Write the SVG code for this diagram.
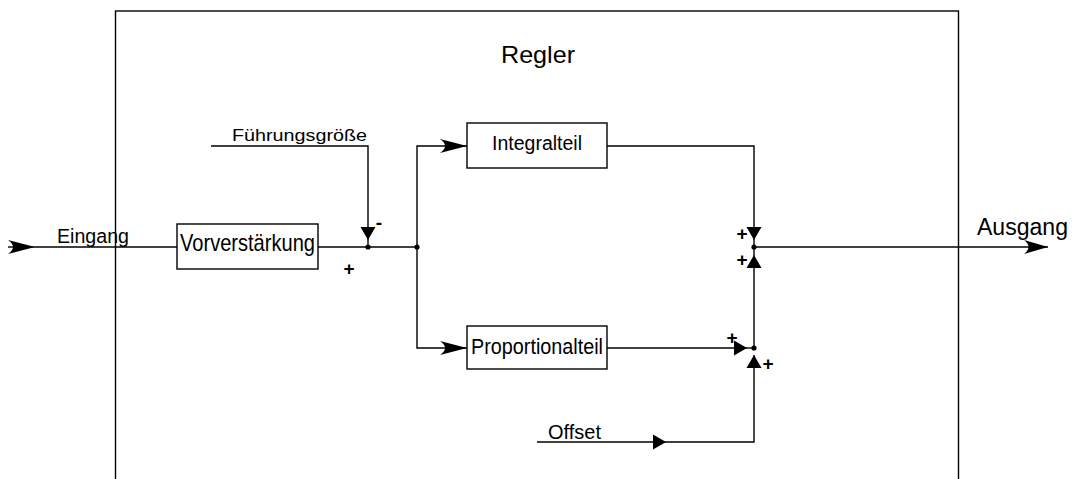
<svg xmlns="http://www.w3.org/2000/svg" width="1078" height="479" viewBox="0 0 1078 479">
<style>
.ln{fill:none;stroke:#000;stroke-width:1.4}
.box{fill:#fff;stroke:#000;stroke-width:1.4}
.t{font-family:"Liberation Sans",Arial,sans-serif;fill:#000}
.s{font-family:"Liberation Sans",Arial,sans-serif;fill:#000;font-size:19px;font-weight:bold;text-anchor:middle}
.dot{fill:#000}
</style>
<defs>
<marker id="stealth" markerUnits="userSpaceOnUse" markerWidth="32" markerHeight="18" viewBox="-30 -9 32 18" refX="0" refY="0" orient="auto"><path d="M0,0 L-27,-7 Q-17,0 -27,7 Z" fill="#000"/></marker>
<marker id="stealthS" markerUnits="userSpaceOnUse" markerWidth="32" markerHeight="18" viewBox="-30 -9 32 18" refX="0" refY="0" orient="auto"><path d="M0,0 L-24,-7 Q-15,0 -24,7 Z" fill="#000"/></marker>
<marker id="tri" markerUnits="userSpaceOnUse" markerWidth="16" markerHeight="18" viewBox="-15 -9 16 18" refX="0" refY="0" orient="auto"><path d="M0,0 L-13,-7.5 L-13,7.5 Z" fill="#000"/></marker>
</defs>
<g id="regler">
<rect class="box" x="115.5" y="11" width="843" height="480" fill="none"/>
<text class="t" x="501" y="63" font-size="24" textLength="74" lengthAdjust="spacingAndGlyphs">Regler</text>
</g>
<g id="connectors">
<path class="ln" d="M8,247 H35" marker-end="url(#stealth)"/>
<path class="ln" d="M35,247 H177"/>
<path class="ln" d="M318,247 H417"/>
<path class="ln" d="M211,146 H368 V240" marker-end="url(#tri)"/>
<path class="ln" d="M368,240 V247"/>
<path class="ln" d="M417,247 V146 H467" marker-end="url(#stealth)"/>
<path class="ln" d="M417,247 V348 H467" marker-end="url(#stealth)"/>
<path class="ln" d="M607,146 H754 V240" marker-end="url(#tri)"/>
<path class="ln" d="M754,348 V255" marker-end="url(#tri)"/>
<path class="ln" d="M754,240 V255"/>
<path class="ln" d="M607,348 H747" marker-end="url(#tri)"/>
<path class="ln" d="M747,348 H754"/>
<path class="ln" d="M537,442 H666" marker-end="url(#tri)"/>
<path class="ln" d="M666,442 H754 V355" marker-end="url(#tri)"/>
<path class="ln" d="M754,247 H1048" marker-end="url(#stealthS)"/>
<circle class="dot" cx="368" cy="247" r="2.6"/>
<circle class="dot" cx="417" cy="247" r="2.6"/>
<circle class="dot" cx="754" cy="247" r="2.6"/>
<circle class="dot" cx="754" cy="348" r="2.6"/>
<text class="s" x="349" y="275">+</text>
<text class="s" x="379" y="229">-</text>
<text class="s" x="742" y="240">+</text>
<text class="s" x="742" y="266">+</text>
<text class="s" x="732" y="344">+</text>
<text class="s" x="768" y="370">+</text>
</g>
<g id="eingang">
<text class="t" x="57" y="243" font-size="20" textLength="72" lengthAdjust="spacingAndGlyphs">Eingang</text>
</g>
<g id="fuehrungsgroesse">
<text class="t" x="232" y="141" font-size="17" textLength="135" lengthAdjust="spacingAndGlyphs">Führungsgröße</text>
</g>
<g id="vorverstaerkung">
<rect class="box" x="177" y="224" width="141" height="45"/>
<text class="t" x="180" y="251" font-size="24" textLength="135" lengthAdjust="spacingAndGlyphs">Vorverstärkung</text>
</g>
<g id="integralteil">
<rect class="box" x="467" y="123" width="140" height="45"/>
<text class="t" x="492" y="150" font-size="20" textLength="90" lengthAdjust="spacingAndGlyphs">Integralteil</text>
</g>
<g id="proportionalteil">
<rect class="box" x="467" y="326" width="140" height="43"/>
<text class="t" x="471" y="354" font-size="22" textLength="132" lengthAdjust="spacingAndGlyphs">Proportionalteil</text>
</g>
<g id="offset">
<text class="t" x="548" y="439" font-size="20" textLength="53" lengthAdjust="spacingAndGlyphs">Offset</text>
</g>
<g id="ausgang">
<text class="t" x="977" y="235" font-size="23.5" textLength="91" lengthAdjust="spacingAndGlyphs">Ausgang</text>
</g>
</svg>
